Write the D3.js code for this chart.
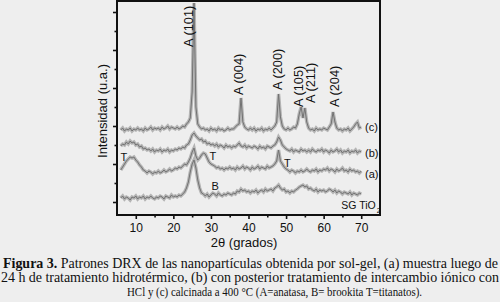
<!DOCTYPE html>
<head>
  <meta charset="utf-8">
  <title>Patrones DRX</title>
  <script src="https://d3js.org/d3.v7.min.js"></script>
  <style>
    body { margin: 0; background: #eeeeee; }
    svg { display: block; }
    .tick text { font-family: 'Liberation Sans', Arial, sans-serif; font-size: 12px; fill: #111; }
  </style>
</head>
<body>
  <div id="chart"></div>
  <script type="text/javascript">

    // 2θ sampling grid (0.5° steps from 6° to 70°)
    var twoTheta = d3.range(6, 70.01, 0.5);

    // intensities (arbitrary units, 0 = lowest tick)
    var sgTiO2 = [4,6,3,5,4,2,5,4,6,3, 5,4,6,3,5,4,6,4,3,5, 4,6,5,3,6,5,4,7,5,6,
      5,7,6,8,10,14,20,30,38,42, 34,22,14,9,8,6,8,5,7,9, 8,6,9,7,6,8,7,9,8,7,
      9,8,11,10,13,11,12,10,11,9, 11,10,12,9,11,12,10,13,11,12, 13,11,14,15,17,14,12,13,10,11,
      9,11,10,12,13,15,16,17,15,16, 13,14,12,11,13,10,12,11,12,10, 11,13,12,10,12,9,11,10,8,10,
      9,8,10,7,9,8,7,9,8];
    var serieA = [32,35,38,41,43,45,44,45,42,40, 37,35,32,31,29,31,30,28,30,29, 31,29,30,32,30,31,33,31,32,34,
      33,35,34,36,38,37,40,44,50,54, 46,42,44,47,49,48,44,40,38,37, 36,34,35,33,34,32,34,33,35,33,
      34,32,35,33,34,36,33,35,34,32, 35,33,34,36,33,35,34,33,36,34, 35,36,38,41,52,41,38,35,33,32,
      30,32,31,29,31,30,32,30,31,33, 31,30,32,31,33,30,32,31,33,32, 34,31,33,32,30,33,31,32,34,31,
      32,30,33,31,32,30,31,29,31];
    var serieB = [56,58,57,60,58,61,59,60,57,58, 55,56,53,54,52,53,51,53,50,52, 51,53,50,52,51,53,50,52,51,53,
      52,54,53,55,54,57,58,62,67,69, 66,64,62,63,60,61,58,59,57,58, 56,58,55,57,56,54,57,55,56,54,
      56,55,57,59,56,55,57,54,56,55, 54,56,55,53,56,54,55,53,56,55, 54,56,57,60,65,62,57,55,53,52,
      51,53,50,52,51,50,53,51,52,50, 52,50,53,51,50,52,51,53,50,52, 51,49,52,50,51,53,50,52,49,51,
      50,52,49,51,50,52,49,51,50];
    var serieC = [72,74,71,73,72,74,71,73,72,74, 72,73,71,74,72,73,75,72,74,73, 74,72,75,73,74,76,73,75,74,73,
      75,73,74,76,75,78,80,84,110,199, 95,78,75,73,74,72,73,71,74,72, 73,71,74,72,73,71,72,74,72,73,
      73,75,77,78,104,80,75,73,72,74, 72,74,71,73,72,74,71,73,72,74, 72,74,76,80,108,85,76,73,72,74,
      72,73,75,74,78,88,95,84,94,80, 74,72,73,71,74,72,73,72,74,73, 72,75,78,90,80,74,72,73,71,73,
      72,74,71,73,75,78,80,74,75];

    // axis ticks
    var xTicks = [10, 20, 30, 40, 50, 60, 70];
    var xMinorTicks = [15, 25, 35, 45, 55, 65];
    var yTicks = [0, 38, 76, 114, 152, 190];
    var yMinorTicks = [19, 57, 95, 133, 171];

    // anatase reflections and where their labels stand
    var peakNames = ['A (101)', 'A (004)', 'A (200)', 'A (105)', 'A (211)', 'A (204)'];
    var peakLabelAngle = [25.1, 38.6, 49.0, 54.6, 57.7, 64.1];
    var peakLabelBase = [155, 107, 112, 95, 99, 95];

    // phase marks (T = titanatos, B = brookita)
    var phaseNames = ['T', 'T', 'T', 'B'];
    var phaseAngle = [5.95, 29.6, 49.45, 30.15];
    var phaseLevel = [41, 42.5, 35.5, 12.5];

    // sample names at the right end of each pattern
    var sampleNames = ['(c)', '(b)', '(a)'];
    var sampleLevel = [71, 45.5, 24];

    var width = 500, height = 302;
    var plot = { left: 117, top: 1, right: 380, bottom: 215 };

    var xScale = d3.scaleLinear().domain([5, 75]).range([plot.left, plot.right]);
    var yScale = d3.scaleLinear().domain([-13, 201]).range([plot.bottom, plot.top]);

    var svg = d3.select('#chart')
      .append('svg')
        .attr('width', width)
        .attr('height', height);

    // patterns: a light band under a thin darker line
    var line = d3.line()
      .x(function (d, i) { return xScale(twoTheta[i]); })
      .y(function (d) { return yScale(d); });

    [sgTiO2, serieA, serieB, serieC].forEach(function (s) {
      svg.append('path')
        .attr('d', line(s))
        .attr('fill', 'none')
        .attr('stroke', '#b4b4b4')
        .attr('stroke-width', 3.4);
      svg.append('path')
        .attr('d', line(s))
        .attr('fill', 'none')
        .attr('stroke', '#727272')
        .attr('stroke-width', 1);
    });

    // x axis, major and minor ticks
    svg.append('g')
        .attr('transform', 'translate(0,' + plot.bottom + ')')
        .call(d3.axisBottom(xScale).tickValues(xTicks).tickSize(4).tickPadding(4).tickFormat(d3.format('d')))
        .call(function (g) { g.select('.domain').remove(); });
    svg.append('g')
        .attr('transform', 'translate(0,' + plot.bottom + ')')
        .call(d3.axisBottom(xScale).tickValues(xMinorTicks).tickSize(2.5).tickFormat(''))
        .call(function (g) { g.select('.domain').remove(); });

    // y axis without labels
    svg.append('g')
        .attr('transform', 'translate(' + plot.left + ',0)')
        .call(d3.axisLeft(yScale).tickValues(yTicks).tickSize(4).tickFormat(''))
        .call(function (g) { g.select('.domain').remove(); });
    svg.append('g')
        .attr('transform', 'translate(' + plot.left + ',0)')
        .call(d3.axisLeft(yScale).tickValues(yMinorTicks).tickSize(2.5).tickFormat(''))
        .call(function (g) { g.select('.domain').remove(); });

    svg.selectAll('.tick line').attr('stroke', '#111').attr('stroke-width', 1.6);

    // frame
    svg.append('rect')
      .attr('x', plot.left)
      .attr('y', plot.top)
      .attr('width', plot.right - plot.left)
      .attr('height', plot.bottom - plot.top)
      .attr('fill', 'none')
      .attr('stroke', '#111')
      .attr('stroke-width', 2);

    var sans = "'Liberation Sans', Arial, sans-serif";

    // peak labels
    svg.selectAll('.peak')
        .data(peakNames)
        .enter()
      .append('text')
        .attr('class', 'peak')
        .attr('transform', function (d, i) {
          return 'translate(' + xScale(peakLabelAngle[i]) + ',' + yScale(peakLabelBase[i]) + ') rotate(-90)';
        })
        .attr('font-family', sans)
        .attr('font-size', 12.8)
        .attr('fill', '#111')
        .text(function (d) { return d; });

    svg.selectAll('.phase')
        .data(phaseNames)
        .enter()
      .append('text')
        .attr('class', 'phase')
        .attr('x', function (d, i) { return xScale(phaseAngle[i]); })
        .attr('y', function (d, i) { return yScale(phaseLevel[i]); })
        .attr('font-family', sans)
        .attr('font-size', 11)
        .attr('fill', '#111')
        .text(function (d) { return d; });

    svg.selectAll('.sample')
        .data(sampleNames)
        .enter()
      .append('text')
        .attr('class', 'sample')
        .attr('x', xScale(71))
        .attr('y', function (d, i) { return yScale(sampleLevel[i]); })
        .attr('font-family', sans)
        .attr('font-size', 11)
        .attr('fill', '#111')
        .text(function (d) { return d; });

    var sg = svg.append('text')
      .attr('x', xScale(64.7))
      .attr('y', yScale(-6.5))
      .attr('font-family', sans)
      .attr('font-size', 10.5)
      .attr('fill', '#111');
    sg.append('tspan').text('SG TiO');
    sg.append('tspan').attr('font-size', 7).attr('dy', 4.5).attr('dx', 1).text('2');

    // axis titles
    svg.append('text')
      .attr('x', 244)
      .attr('y', 247)
      .attr('text-anchor', 'middle')
      .attr('font-family', sans)
      .attr('font-size', 13)
      .attr('fill', '#111')
      .text('2θ (grados)');

    svg.append('text')
      .attr('transform', 'translate(107,111) rotate(-90)')
      .attr('text-anchor', 'middle')
      .attr('font-family', sans)
      .attr('font-size', 13)
      .attr('fill', '#111')
      .text('Intensidad (u.a.)');

    // caption
    var serif = "'Liberation Serif', 'Times New Roman', serif";
    var cap1 = svg.append('text')
      .attr('x', 3).attr('y', 267.5)
      .attr('font-family', serif).attr('font-size', 14).attr('fill', '#111')
      .attr('textLength', 495);
    cap1.append('tspan').attr('font-weight', 'bold').text('Figura 3.');
    cap1.append('tspan').text(' Patrones DRX de las nanopartículas obtenida por sol-gel, (a) muestra luego de');

    svg.append('text')
      .attr('x', 1).attr('y', 281.5)
      .attr('font-family', serif).attr('font-size', 14).attr('fill', '#111')
      .attr('textLength', 498)
      .text('24 h de tratamiento hidrotérmico, (b) con posterior tratamiento de intercambio iónico con');

    svg.append('text')
      .attr('x', 127).attr('y', 295.5)
      .attr('font-family', serif).attr('font-size', 12.5).attr('fill', '#111')
      .attr('textLength', 295)
      .attr('lengthAdjust', 'spacingAndGlyphs')
      .text('HCl y (c) calcinada a 400 °C (A=anatasa, B= brookita T=titanatos).');
  </script>
</body>
